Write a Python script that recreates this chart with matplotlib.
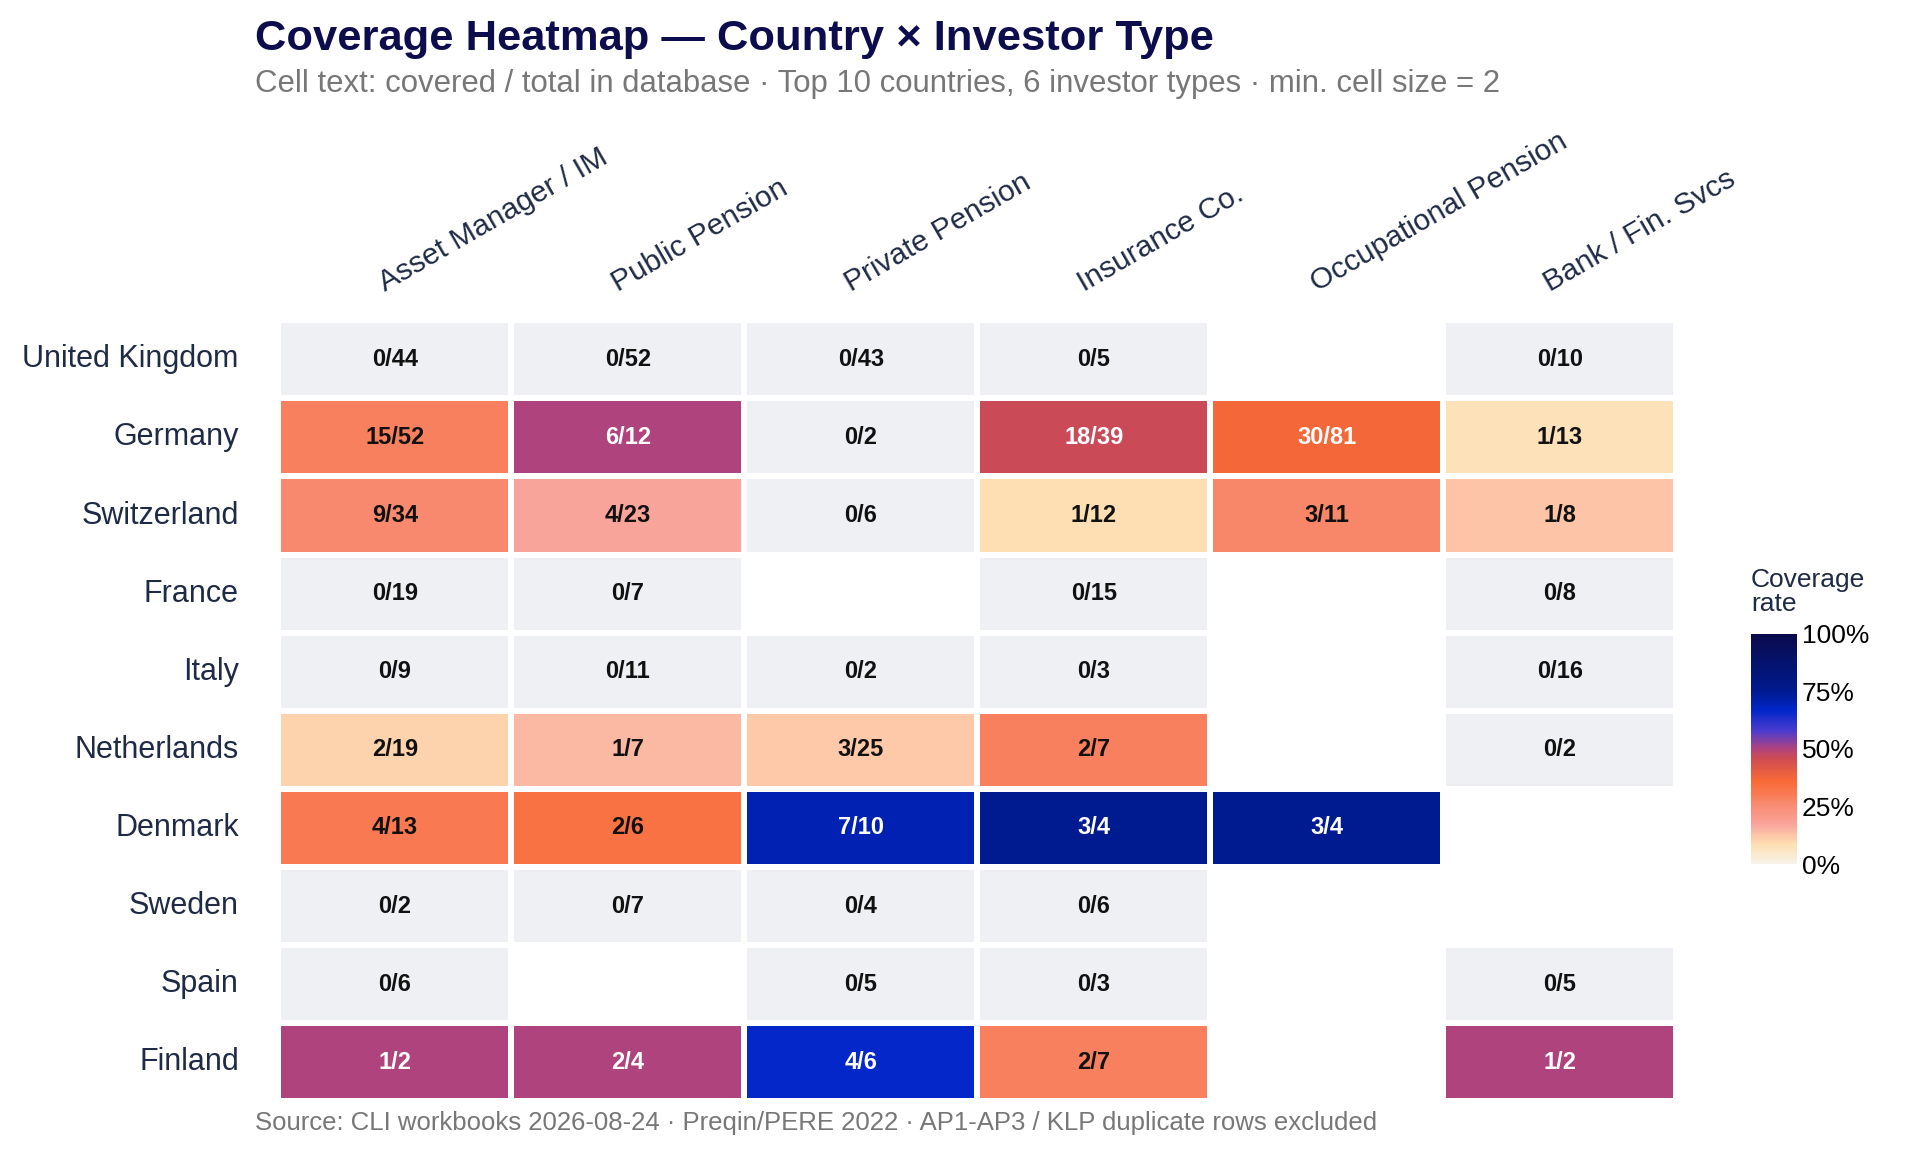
import numpy as np
import matplotlib
matplotlib.use("Agg")
import matplotlib.pyplot as plt
from matplotlib.colors import LinearSegmentedColormap

plt.rcParams['font.family'] = ['Liberation Sans', 'DejaVu Sans']

countries = ["United Kingdom","Germany","Switzerland","France","Italy","Netherlands","Denmark","Sweden","Spain","Finland"]
types = ["Asset Manager / IM","Public Pension","Private Pension","Insurance Co.","Occupational Pension","Bank / Fin. Svcs"]
covered = [
    [0,0,0,0,None,0],
    [15,6,0,18,30,1],
    [9,4,0,1,3,1],
    [0,0,None,0,None,0],
    [0,0,0,0,None,0],
    [2,1,3,2,None,0],
    [4,2,7,3,3,None],
    [0,0,0,0,None,None],
    [0,None,0,0,None,0],
    [1,2,4,2,None,1],
]
total = [
    [44,52,43,5,None,10],
    [52,12,2,39,81,13],
    [34,23,6,12,11,8],
    [19,7,None,15,None,8],
    [9,11,2,3,None,16],
    [19,7,25,7,None,2],
    [13,6,10,4,4,None],
    [2,7,4,6,None,None],
    [6,None,5,3,None,5],
    [2,4,6,7,None,2],
]

stops = [(0,"#f7f3ea"),(0.08,"#fde0b4"),(0.12,"#fdc8a8"),(0.17,"#f9a59c"),(0.26,"#f88a70"),
         (0.3,"#f97b55"),(0.36,"#f86a35"),(0.46,"#cd4b55"),(0.5,"#b0437c"),(0.58,"#4a3bd0"),
         (0.67,"#0026c8"),(0.75,"#001a90"),(1.0,"#0a0a4a")]
cmap = LinearSegmentedColormap.from_list("cov", stops)

nr, nc = len(countries), len(types)
rate = np.full((nr, nc), np.nan)
for i in range(nr):
    for j in range(nc):
        if total[i][j] is not None:
            rate[i, j] = covered[i][j] / total[i][j]

fig = plt.figure(figsize=(19.2, 11.52), dpi=100)
ax = fig.add_axes([0.145, 0.044, 0.728, 0.678])
x = np.arange(nc + 1); y = np.arange(nr + 1)
pos = np.ma.masked_where(~(rate > 0), rate)
zero = np.ma.masked_where(~(rate == 0), np.zeros_like(rate))
ax.pcolormesh(x, y, zero, cmap=LinearSegmentedColormap.from_list("g", ["#eff0f3", "#eff0f3"]),
              edgecolors="white", linewidth=3)
mesh = ax.pcolormesh(x, y, pos, cmap=cmap, vmin=0, vmax=1, edgecolors="white", linewidth=3)
ax.set_xlim(0, nc); ax.set_ylim(nr, 0)
for i in range(nr):
    for j in range(nc):
        if total[i][j] is None:
            continue
        r = rate[i, j]
        ax.text(j + 0.5, i + 0.5, f"{covered[i][j]}/{total[i][j]}", ha="center", va="center",
                fontsize=17, fontweight="bold", color="white" if r >= 0.36 else "#111111")
for s in ax.spines.values():
    s.set_visible(False)
ax.set_xticks([]); ax.set_yticks([])
for i, c in enumerate(countries):
    ax.text(-0.17, i + 0.5, c, ha="right", va="center", fontsize=22, color="#1f2a44")
for j, t in enumerate(types):
    ax.text(j + 0.47, -0.3, t, ha="left", va="bottom", rotation=30, rotation_mode="anchor",
            fontsize=21.5, color="#1f2a44")

fig.text(0.133, 0.966, "Coverage Heatmap — Country × Investor Type", fontsize=31.3, fontweight="bold",
         color="#0d0d4d", va="center")
fig.text(0.133, 0.927, "Cell text: covered / total in database · Top 10 countries, 6 investor types · min. cell size = 2",
         fontsize=22.4, color="#777777", va="center")
fig.text(0.133, 0.025, "Source: CLI workbooks 2026-08-24 · Preqin/PERE 2022 · AP1-AP3 / KLP duplicate rows excluded",
         fontsize=18.5, color="#777777", va="center")

cax = fig.add_axes([0.912, 0.25, 0.024, 0.2])
cb = fig.colorbar(mesh, cax=cax, ticks=[0, 0.25, 0.5, 0.75, 1])
cb.ax.set_yticklabels(["0%", "25%", "50%", "75%", "100%"], fontsize=19)
cb.outline.set_visible(False)
cb.ax.tick_params(length=0)
fig.text(0.912, 0.465, "Coverage\nrate", fontsize=19, color="#1f2a44", va="bottom", ha="left",
         linespacing=1.0)

fig.savefig("out.png", dpi=100, facecolor="white")
